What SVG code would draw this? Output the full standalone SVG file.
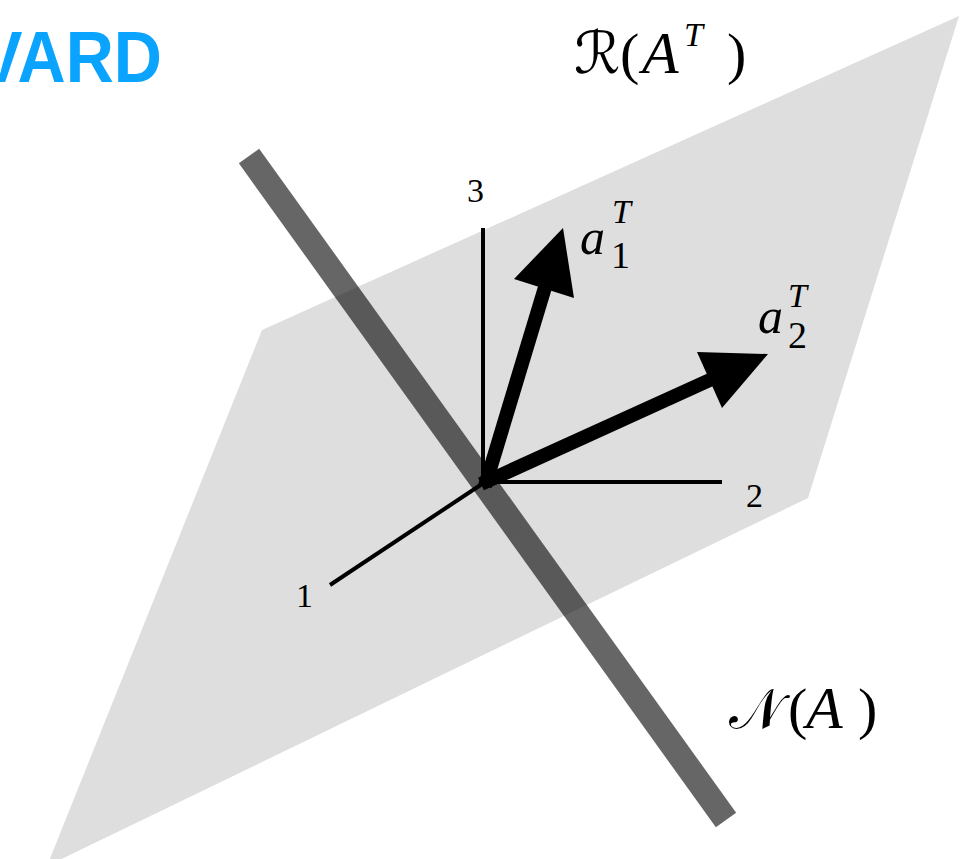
<svg xmlns="http://www.w3.org/2000/svg" width="963" height="859" viewBox="0 0 963 859">
<style>
.axis{stroke:#000;stroke-width:4;fill:none}
.num{font-family:"Liberation Serif","DejaVu Serif",serif;font-size:34px;fill:#000}
.it{font-family:"Liberation Serif","DejaVu Serif",serif;font-style:italic;fill:#000}
.rm{font-family:"Liberation Serif","DejaVu Serif",serif;fill:#000}
.scr{font-family:"DejaVu Serif","DejaVu Sans",serif;fill:#000}
.vec{stroke:#000;stroke-width:14;fill:none}
</style>
<rect width="963" height="859" fill="#fff"/>
<g id="title">
<text x="-22" y="82" font-family="Liberation Sans, Arial, sans-serif" font-weight="bold" font-size="72" fill="#0aa4ff" textLength="184" lengthAdjust="spacingAndGlyphs">VARD</text>
</g>
<g id="plane">
<polygon points="262,330 959,16 808,498 47,866" fill="#dedede"/>
</g>
<g id="nullspace">
<line x1="249" y1="156" x2="726" y2="820" stroke="#000" stroke-opacity="0.6" stroke-width="25"/>
</g>
<g id="axes">
<line class="axis" x1="483" y1="484" x2="483" y2="228"/>
<line class="axis" x1="481" y1="482" x2="722" y2="482"/>
<line class="axis" x1="485" y1="482" x2="330" y2="585"/>
<text class="num" x="467" y="202">3</text>
<text class="num" x="746" y="507">2</text>
<text class="num" x="296" y="607">1</text>
</g>
<g id="connectors">
<g id="a1">
<line class="vec" x1="485" y1="486" x2="546" y2="284"/>
<polygon points="563,228 574,298 514,279"/>
</g>
<g id="a2">
<line class="vec" x1="481" y1="484" x2="712" y2="379"/>
<polygon points="768,354 722,408 697,352"/>
</g>
</g>
<g id="label-a1">
<text class="it" x="580" y="254" font-size="50">a</text>
<text class="it" x="612" y="223" font-size="34">T</text>
<text class="rm" x="611" y="268" font-size="38">1</text>
</g>
<g id="label-a2">
<text class="it" x="758" y="333" font-size="50">a</text>
<text class="it" x="788" y="307" font-size="34">T</text>
<text class="rm" x="788" y="348" font-size="38">2</text>
</g>
<g id="label-R">
<text class="scr" x="574" y="73" font-size="58">ℛ</text>
<text class="rm" x="620" y="73" font-size="58">(</text>
<text class="it" x="642" y="73" font-size="60">A</text>
<text class="it" x="684" y="46" font-size="34">T</text>
<text class="rm" x="727" y="73" font-size="58">)</text>
</g>
<g id="label-N">
<text class="scr" x="729" y="728" font-size="56">𝒩</text>
<text class="rm" x="788" y="728" font-size="58">(</text>
<text class="it" x="806" y="728" font-size="60">A</text>
<text class="rm" x="858" y="728" font-size="58">)</text>
</g>
</svg>
